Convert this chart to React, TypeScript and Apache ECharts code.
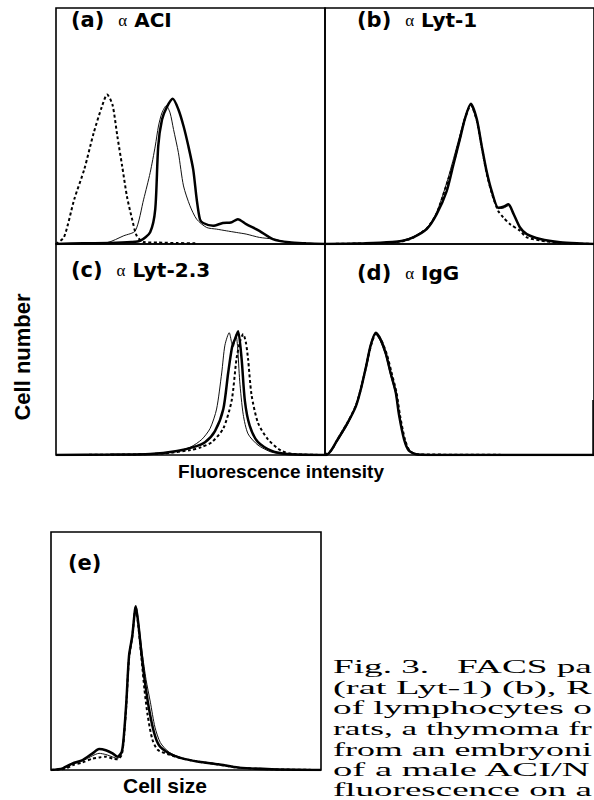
import React, { useEffect, useRef } from "react";
import * as echarts from "echarts";

type Pt = [number, number];

// ---- data (x: channel as % of panel width, y: relative cell number) ----
// (a) α ACI
const aThick: Pt[] = [[0,0],[10,0.3],[20,0.4],[28,0.8],[31.4,1.4],[35,5],[36.9,14.8],[38,41.5],[39.4,52.7],[41.2,58],[43.4,61.5],[45.5,57],[47.4,50],[49.2,41.5],[51,31.6],[52.3,19],[53.5,10.5],[54.7,8.9],[58.4,7.7],[62,8.9],[65,9.1],[67.6,10.5],[70.7,8.4],[75.6,5.6],[80.6,2.1],[86.7,0.7],[92.9,0.3],[100,0]];
const aThin: Pt[] = [[0,0],[12,0.3],[19,0.6],[25.2,3.5],[29.5,5.6],[32.6,19],[35,30.2],[36.9,41.5],[38.1,50],[39.4,55.6],[41,58.6],[42.4,55.6],[43.7,48.5],[45.5,38.7],[47.4,24.6],[49.8,16.2],[52.3,10.5],[56,7],[59.7,6.3],[63.3,5.6],[67,4.9],[70.7,4.2],[75.6,2.8],[80.6,2.1],[86.7,0.7],[100,0]];
const aDotted: Pt[] = [[0,0],[3,3],[6.8,19],[10.5,31.6],[14,47],[17,58],[19,63.3],[21,59],[22.8,45.7],[24.6,33],[26.4,20],[28.3,10.5],[30,3.5],[32.6,0.8],[38,0.6],[45,0.4],[52,0.3]];
// (b) α Lyt-1
const bThick: Pt[] = [[0,0],[15,0.3],[25,0.8],[29,1.4],[32.8,2.8],[37.8,6.3],[41.5,12.6],[45.2,22.3],[47.7,33.5],[50.2,44.7],[52,53],[54.2,59.4],[56.4,53],[58.2,41.9],[60.1,30.7],[62,22.3],[64.4,15.4],[66.3,15.8],[68.2,16.8],[70,13],[72.5,7],[75,4.2],[80,2.1],[87.4,0.7],[95,0.2],[100,0]];
const bThin: Pt[] = [[0,0],[15,0.3],[25,0.8],[29,1.6],[33,3.2],[38,7],[41.5,13.5],[45,25],[47.5,35],[50,45.5],[52,53.5],[54,59],[56.2,53.5],[58,42.5],[60,31],[62,22],[64.4,15],[66.3,15.2],[68.2,16.2],[70,12.8],[72.5,7],[75,4],[80,2],[87.4,0.7],[100,0]];
const bDotted: Pt[] = [[0,0],[20,0.4],[29,1.2],[33,2.8],[38,6.8],[41.5,13],[45,24.5],[47.7,34],[50.2,45],[52,53],[54.2,58.8],[56.4,52.5],[58.2,41.5],[60.1,30],[62,21.5],[64.4,14],[66.3,11.2],[68.8,8.4],[72.5,5.6],[75,2.8],[80,1.5],[87,0.5],[100,0]];
// (c) α Lyt-2.3
const cThick: Pt[] = [[0,0],[20,0.2],[35,0.5],[45,2],[51,4],[55.4,6.5],[59.1,12.1],[62.2,23.3],[64,41.6],[65.5,55],[66.6,59],[67.7,62.7],[69,48.7],[70.2,27.6],[72,14.9],[75.1,6.5],[80,2.2],[86,0.5],[100,0]];
const cThin: Pt[] = [[0,0],[20,0.2],[35,0.6],[45,2],[50,4],[54.2,7.9],[57.3,13.5],[59.7,23.3],[61.6,41.6],[62.8,55.7],[64.4,62],[65.3,57],[65.9,55],[66.9,61],[67.5,55],[68.3,37.4],[69.6,20.5],[71.4,10.7],[75.1,5],[80,1.5],[85,0.4],[100,0]];
const cDotted: Pt[] = [[0,0],[25,0.2],[40,0.8],[50,2.5],[54,4],[57.9,6.5],[62.2,13.5],[65.3,27.6],[67.1,48.7],[68.5,58],[69.6,61.3],[70.6,57],[71.4,48.7],[72.7,30.4],[75.1,16.3],[78.8,7.9],[83.7,2.2],[88,0.5],[100,0]];
// (d) α IgG
const dThick: Pt[] = [[0,0],[0.4,0],[2.2,2.2],[4.1,6.5],[8.4,16.3],[11.5,24.8],[13.3,33.2],[15.2,44.4],[17,55.7],[18.9,62],[20.7,58.5],[22.6,51.5],[24.4,41.6],[26.3,31.8],[27.5,20.5],[29.4,7.9],[31.2,2.2],[34.3,0.3],[45,0],[100,0]];
const dThin: Pt[] = [[0,0],[2,1.8],[4.1,6],[8.4,15.5],[11.5,25.5],[13.3,34],[15.2,45.5],[17,56.5],[18.6,61.5],[20.5,58],[22.6,50.5],[24.4,40.5],[26.3,31],[27.6,19.5],[29.6,7.2],[31.5,2],[35,0.3],[100,0]];
const dDotted: Pt[] = [[0,0],[2.4,2.4],[4.3,7],[8.6,17],[11.6,25.5],[13.5,34.5],[15.4,45.5],[17.2,56],[19,61.5],[21,58],[23,51],[24.8,41.5],[26.6,31.5],[27.9,20],[29.8,7.5],[31.6,2],[35,0.3],[100,0]];
// (e) cell size
const eThick: Pt[] = [[0,0],[4.3,0.7],[8,2.8],[11.7,4.2],[15.4,7],[17.8,8.8],[20.3,8.3],[22.8,7],[24.6,5.6],[26.2,7.6],[27,14.6],[27.9,28.5],[28.9,48],[30.1,56.3],[31.4,68.8],[32.3,61.9],[33.6,48],[34.8,36.9],[36.3,25.7],[38.1,16],[40,10.4],[43.7,7],[48.6,4.9],[54.7,3.5],[62,2.4],[69.5,1],[81.8,0.3],[100,0]];
const eThin: Pt[] = [[0,0],[4.3,0.6],[8,2.5],[11.7,3.8],[15.4,6],[17.8,7],[20.3,6.5],[22.8,5.5],[24.6,4.8],[26.2,7],[27,14],[27.9,28],[28.9,47],[30.1,56],[31.4,68],[32.4,62],[33.8,49],[35.2,38],[36.8,28.5],[38.5,18],[40.5,11.5],[43.7,7.5],[48.6,5],[54.7,3.5],[62,2.3],[69.5,1],[81.8,0.3],[100,0]];
const eDotted: Pt[] = [[0,0],[5,0.5],[8,2],[11.7,3.2],[15.4,4.8],[18,5.3],[20.3,5.6],[22.8,4.8],[24.6,4.5],[26.2,6.5],[27,13.5],[27.9,27.5],[28.9,47],[30.1,56],[31.4,68.5],[32.3,61],[33.6,46],[34.6,34],[35.8,23],[37.5,13],[39.5,8.5],[43.7,6.5],[48.6,4.8],[54.7,3.5],[62,2.3],[69.5,1],[81.8,0.3],[100,0]];

const panelLetters = ["(a)", "(b)", "(c)", "(d)", "(e)"];
const antibodies = ["ACI", "Lyt-1", "Lyt-2.3", "IgG", ""];
const yTitle = "Cell number";
const xTitles = ["Fluorescence intensity", "Cell size"];
const captionLines = [
  "Fig. 3.   FACS pa",
  "(rat Lyt-1) (b), R",
  "of lymphocytes o",
  "rats, a thymoma fr",
  "from an embryoni",
  "of a male ACI/N",
  "fluorescence on a",
];
const yMax = [100, 100, 107, 107, 100];

const panelCurves: Pt[][][] = [
  [aThin, aThick, aDotted],
  [bThin, bThick, bDotted],
  [cThin, cThick, cDotted],
  [dThin, dThick, dDotted],
  [eThin, eThick, eDotted],
];

// layout
const grids = [
  { left: 56, top: 8, width: 269, height: 236 },
  { left: 325, top: 8, width: 276, height: 236 },
  { left: 56, top: 244, width: 269, height: 211 },
  { left: 325, top: 244, width: 276, height: 211 },
  { left: 51, top: 532, width: 270, height: 238 },
];
const labelPos = [
  [71, 20], [357, 20], [71, 270], [357, 273], [68, 563],
];

const SANS = '"Liberation Sans", Arial, sans-serif';
const LSANS = '"DejaVu Sans", "Liberation Sans", sans-serif';
const SERIF = '"Liberation Serif", "DejaVu Serif", serif';

function measure(text: string, font: string): number {
  const c = document.createElement("canvas").getContext("2d");
  if (!c) return text.length * 8;
  c.font = font;
  return c.measureText(text).width;
}

export default function App() {
  const ref = useRef<HTMLDivElement>(null);
  useEffect(() => {
    if (!ref.current) return;
    const chart = echarts.init(ref.current, undefined, { renderer: "svg" });
    const series: any[] = [];
    const styles = [
      { width: 1, color: "#111", type: "solid" },
      { width: 2.5, color: "#000", type: "solid" },
      { width: 2, color: "#000", type: [3, 2.5] },
    ];
    panelCurves.forEach((curves, gi) => {
      curves.forEach((data, ci) => {
        series.push({
          type: "line",
          xAxisIndex: gi,
          yAxisIndex: gi,
          data,
          symbol: "none",
          smooth: 0.25,
          silent: true,
          lineStyle: styles[ci],
          z: 3 + ci,
        });
      });
    });
    const graphic: any[] = [];
    labelPos.forEach(([x, y], i) => {
      const txt = antibodies[i]
        ? `{p|${panelLetters[i]}}  {g|α} {t|${antibodies[i]}}`
        : `{p|${panelLetters[i]}}`;
      graphic.push({
        type: "text",
        x,
        y,
        style: {
          text: txt,
          verticalAlign: "middle",
          align: "left",
          fill: "#000",
          font: `bold 20px ${LSANS}`,
          rich: {
            p: { fontFamily: LSANS, fontWeight: "bold", fontSize: 21, fill: "#000" },
            g: { fontFamily: SERIF, fontSize: 17, fill: "#000" },
            t: { fontFamily: LSANS, fontWeight: "bold", fontSize: 20, fill: "#000" },
          },
        },
      });
    });
    graphic.push({
      type: "text",
      x: 22,
      y: 357,
      rotation: Math.PI / 2,
      style: { text: yTitle, align: "center", verticalAlign: "middle", font: `bold 22px ${SANS}`, fill: "#000" },
    });
    graphic.push({
      type: "text",
      x: 281,
      y: 471,
      style: { text: xTitles[0], align: "center", verticalAlign: "middle", font: `bold 19px ${SANS}`, fill: "#000" },
    });
    graphic.push({
      type: "text",
      x: 165,
      y: 785,
      style: { text: xTitles[1], align: "center", verticalAlign: "middle", font: `bold 21px ${SANS}`, fill: "#000" },
    });
    const capFont = `19px ${SERIF}`;
    const capLeft = 333;
    const capRight = 592;
    captionLines.forEach((line, i) => {
      const w = measure(line, capFont);
      const sx = w > 0 ? (capRight - capLeft) / w : 1;
      graphic.push({
        type: "text",
        x: capLeft,
        y: 667 + i * 20.5,
        scaleX: sx,
        style: { text: line, align: "left", verticalAlign: "middle", font: capFont, fill: "#000" },
      });
    });
    // partial right border of panel (d)
    graphic.push({
      type: "line",
      shape: { x1: 593, y1: 400, x2: 593, y2: 455 },
      style: { stroke: "#000", lineWidth: 1.5 },
    });

    chart.setOption({
      animation: false,
      backgroundColor: "#fff",
      grid: grids.map((g) => ({
        ...g,
        show: true,
        borderColor: "#000",
        borderWidth: 1.6,
        backgroundColor: "transparent",
        containLabel: false,
      })),
      xAxis: grids.map((_, i) => ({ type: "value", gridIndex: i, min: 0, max: 100, show: false })),
      yAxis: grids.map((_, i) => ({ type: "value", gridIndex: i, min: 0, max: yMax[i], show: false })),
      series,
      graphic,
    });
    return () => chart.dispose();
  }, []);
  return (
    <div
      ref={ref}
      style={{ position: "absolute", left: 0, top: 0, width: 594, height: 800, background: "#fff" }}
    />
  );
}
